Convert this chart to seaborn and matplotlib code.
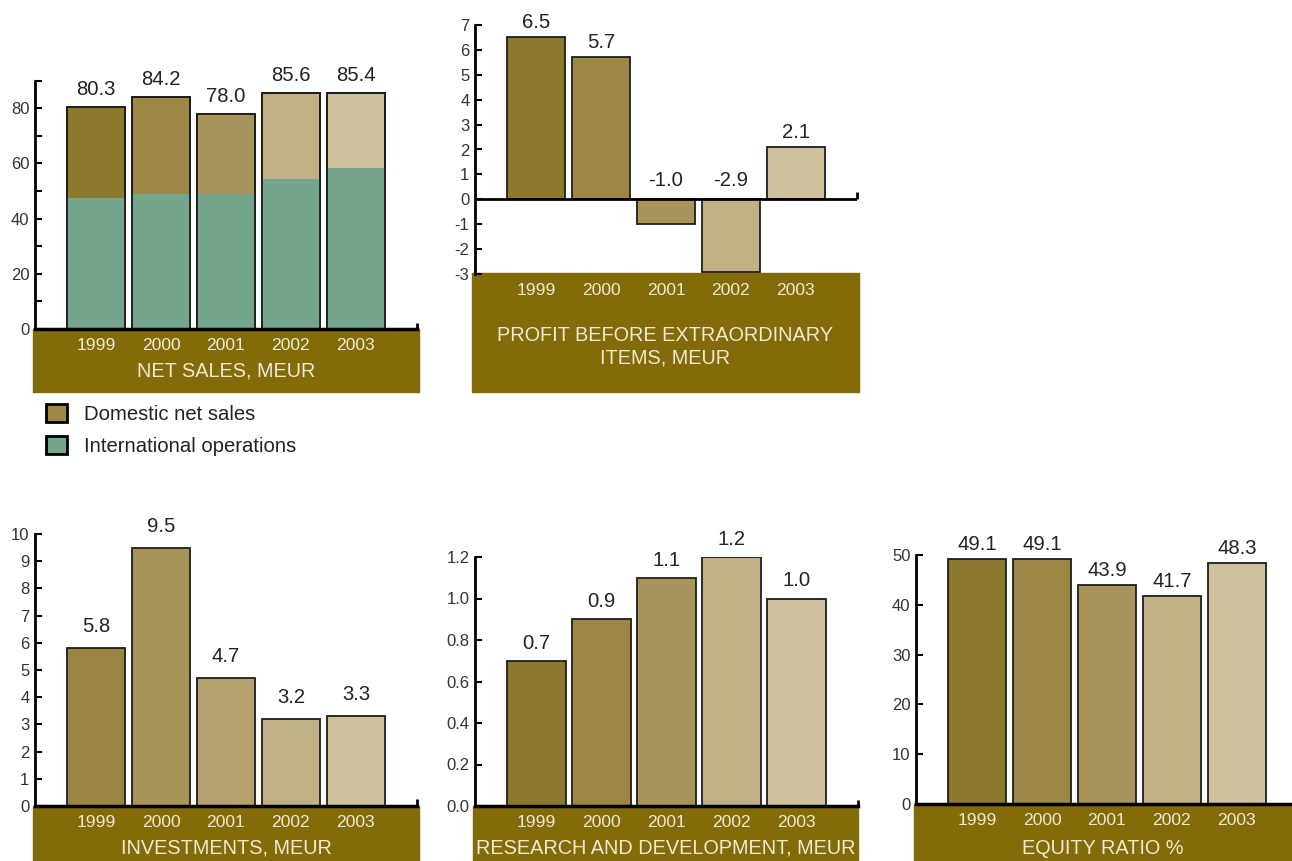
import matplotlib
matplotlib.use("Agg")
import matplotlib.pyplot as plt
import seaborn as sns
from matplotlib.patches import Rectangle, Patch

# ---------------- data ----------------
years = ["1999", "2000", "2001", "2002", "2003"]
net_sales_total = [80.3, 84.2, 78.0, 85.6, 85.4]
international_sales = [47.5, 48.9, 48.9, 54.3, 58.3]
profit = [6.5, 5.7, -1.0, -2.9, 2.1]
investments = [5.8, 9.5, 4.7, 3.2, 3.3]
rnd = [0.7, 0.9, 1.1, 1.2, 1.0]
equity_ratio = [49.1, 49.1, 43.9, 41.7, 48.3]

title_sales = "NET SALES, MEUR"
title_profit = "PROFIT BEFORE EXTRAORDINARY\nITEMS, MEUR"
title_invest = "INVESTMENTS, MEUR"
title_rnd = "RESEARCH AND DEVELOPMENT, MEUR"
title_equity = "EQUITY RATIO %"
legend_labels = ["Domestic net sales", "International operations"]

# ---------------- style ----------------
sns.set_theme(style="white")
plt.rcParams["font.family"] = ["Liberation Sans", "DejaVu Sans"]
plt.rcParams["axes.unicode_minus"] = False

pal_main = ["#8B7A2E", "#9C8744", "#A8955B", "#C2B187", "#CFC19C"]
pal_inv = ["#9A8643", "#A69459", "#B5A26F", "#C2B187", "#CFC19C"]
green = "#75A58C"
band_color = "#826B08"
band_text = "#F0EAD4"
edge = "#1E1E1E"
txt = "#222222"
tick_txt = "#333333"

W, H = 1292, 861
fig = plt.figure(figsize=(W / 100, H / 100), dpi=100)
fig.patch.set_facecolor("white")


def px_axes(l, t, r, b):
    ax = fig.add_axes([l / W, 1 - b / H, (r - l) / W, (b - t) / H])
    ax.set_facecolor("none")
    return ax


def band(l, t, r, b, title, ty):
    fig.add_artist(Rectangle((l / W, 1 - b / H), (r - l) / W, (b - t) / H,
                             transform=fig.transFigure, color=band_color, zorder=0))
    fig.text((l + r) / 2 / W, 1 - ty / H, title, ha="center", va="center",
             color=band_text, fontsize=14.3, linespacing=1.25)


def style_axes(ax, ylim, major, minor=None, fmt="{:.0f}", zero_spine=True):
    ax.set_xlim(-0.94, 4.94)
    ax.set_ylim(*ylim)
    ax.set_xlabel("")
    ax.set_ylabel("")
    for s in ["top", "right"]:
        ax.spines[s].set_visible(False)
    ax.spines["left"].set_linewidth(2)
    ax.spines["left"].set_color("black")
    if zero_spine:
        ax.spines["bottom"].set_linewidth(2.5)
        ax.spines["bottom"].set_color("black")
        ax.plot([1, 1], [0, 0.025], transform=ax.transAxes, color="black",
                lw=2, clip_on=False, solid_capstyle="butt")
    else:
        ax.spines["bottom"].set_visible(False)
    ax.set_yticks(major)
    ax.set_yticklabels([fmt.format(v) for v in major])
    if minor is not None:
        ax.set_yticks(minor, minor=True)
    ax.tick_params(axis="y", which="both", direction="in", length=5, width=1.5,
                   color="black", labelsize=12, labelcolor=tick_txt, pad=4, left=True)
    ax.tick_params(axis="x", length=0, pad=6.5, labelsize=12.6, labelcolor=band_text)
    ax.grid(False)


def value_labels(ax, values, off_pos, off_neg=None):
    for i, v in enumerate(values):
        if v >= 0:
            ax.annotate(f"{v:.1f}", (i, v), xytext=(0, off_pos), textcoords="offset points",
                        ha="center", va="bottom", fontsize=14.6, color=txt)
        else:
            ax.annotate(f"{v:.1f}", (i, 0), xytext=(0, off_neg), textcoords="offset points",
                        ha="center", va="bottom", fontsize=14.6, color=txt)


bar_kw = dict(width=0.9, saturation=1, edgecolor=edge, linewidth=1.3)

# ---------------- panel 1: net sales ----------------
ax1 = px_axes(35, 80.7, 417, 329)
sns.barplot(x=years, y=net_sales_total, hue=years, palette=pal_main, legend=False, ax=ax1, **bar_kw)
sns.barplot(x=years, y=international_sales, color=green, width=0.9, saturation=1,
            linewidth=0, ax=ax1)
sns.barplot(x=years, y=net_sales_total, color=edge, fill=False, width=0.9, linewidth=1.3, ax=ax1)
style_axes(ax1, (0, 90), [0, 20, 40, 60, 80], [10, 30, 50, 70, 90])
value_labels(ax1, net_sales_total, 5.8)
band(33, 329, 419, 392, title_sales, 371)

fig.legend(handles=[Patch(facecolor=pal_main[1], edgecolor="black", linewidth=2),
                    Patch(facecolor=green, edgecolor="black", linewidth=2)],
           labels=legend_labels, loc="upper left", bbox_to_anchor=(46 / W, 1 - 404 / H),
           frameon=False, fontsize=14.6, handlelength=1.05, handleheight=1.0,
           handletextpad=0.8, labelspacing=0.58, borderpad=0, borderaxespad=0,
           labelcolor=txt)

# ---------------- panel 2: profit ----------------
ax2 = px_axes(475, 25, 857, 274)
sns.barplot(x=years, y=profit, hue=years, palette=pal_main, legend=False, ax=ax2, **bar_kw)
style_axes(ax2, (-3, 7), list(range(-3, 8)), zero_spine=False)
ax2.axhline(0, color="black", lw=2, zorder=3)
ax2.plot([1, 1], [0, 0.3], transform=ax2.get_yaxis_transform(), color="black",
         lw=2, clip_on=False, solid_capstyle="butt")
value_labels(ax2, profit, 3.6, 6.5)
band(472, 273, 859, 392, title_profit, 347)

# ---------------- panel 3: investments ----------------
ax3 = px_axes(35, 534, 417, 806)
sns.barplot(x=years, y=investments, hue=years, palette=pal_inv, legend=False, ax=ax3, **bar_kw)
style_axes(ax3, (0, 10), list(range(0, 11)))
value_labels(ax3, investments, 8.6)
band(33, 806, 419, 861, title_invest, 848)

# ---------------- panel 4: R&D ----------------
ax4 = px_axes(475, 557, 858, 806)
sns.barplot(x=years, y=rnd, hue=years, palette=pal_main, legend=False, ax=ax4, **bar_kw)
style_axes(ax4, (0, 1.2), [0.0, 0.2, 0.4, 0.6, 0.8, 1.0, 1.2], fmt="{:.1f}")
value_labels(ax4, rnd, 5.8)
band(473, 806, 858, 861, title_rnd, 848)

# ---------------- panel 5: equity ratio ----------------
ax5 = px_axes(916, 555, 1298, 804)
sns.barplot(x=years, y=equity_ratio, hue=years, palette=pal_main, legend=False, ax=ax5, **bar_kw)
style_axes(ax5, (0, 50), [0, 10, 20, 30, 40, 50])
value_labels(ax5, equity_ratio, 4.0)
band(914, 804, 1292, 861, title_equity, 849)

fig.savefig("out.png", dpi=100, facecolor="white")
